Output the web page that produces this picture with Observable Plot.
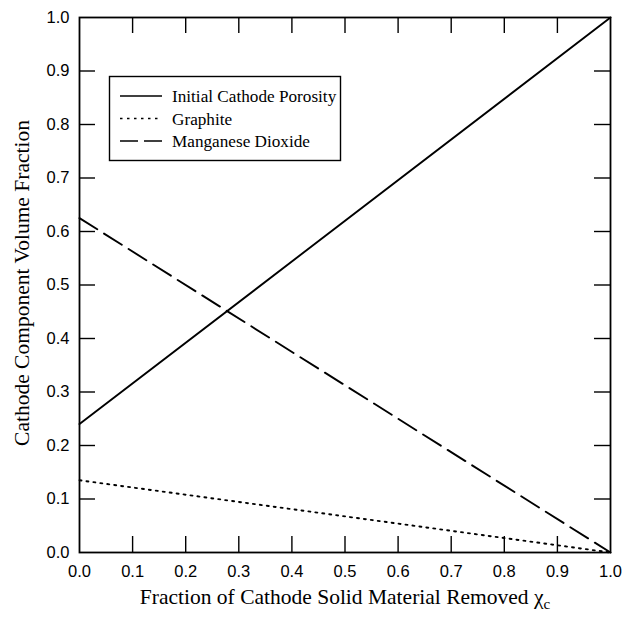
<!DOCTYPE html>
<html>
<head>
<meta charset="utf-8">
<script src="https://cdn.jsdelivr.net/npm/d3@7"></script>
<script src="https://cdn.jsdelivr.net/npm/@observablehq/plot@0.6"></script>
<style>
  html, body { margin: 0; padding: 0; background: #fff; }
  #chart { position: relative; width: 625px; height: 620px; }
</style>
</head>
<body>
<div id="chart"></div>
<script>
// Data (line endpoints)
const xRemoved = [0, 1];
const porosity = [0.24, 1.0];
const graphite = [0.135, 0.0];
const mno2 = [0.625, 0.0];
const seriesNames = ["Initial Cathode Porosity", "Graphite", "Manganese Dioxide"];
const tickValues = [0, 0.1, 0.2, 0.3, 0.4, 0.5, 0.6, 0.7, 0.8, 0.9, 1.0];
const innerTicks = tickValues.slice(1, -1);

const rows = [];
[porosity, graphite, mno2].forEach((vals, i) => {
  xRemoved.forEach((x, j) => rows.push({series: seriesNames[i], x, y: vals[j]}));
});
const dashes = {"Initial Cathode Porosity": null, "Graphite": "2,5", "Manganese Dioxide": "21,8"};

const W = 625, H = 620;
const mL = 79, mR = 15, mT = 17, mB = 68;
const tickLenPx = 16;
const tx = tickLenPx / (W - mL - mR);
const ty = tickLenPx / (H - mT - mB);

const lineMarks = seriesNames.map(s => Plot.line(rows.filter(r => r.series === s), {
  x: "x", y: "y", stroke: "black", strokeWidth: 1.9,
  strokeDasharray: dashes[s]
}));

const plot = Plot.plot({
  width: W, height: H,
  marginLeft: mL, marginRight: mR, marginTop: mT, marginBottom: mB,
  style: {fontFamily: "'Liberation Sans', Arial, sans-serif", color: "black", background: "white"},
  x: {domain: [0, 1], ticks: tickValues, tickFormat: d3.format(".1f"), label: null},
  y: {domain: [0, 1], ticks: tickValues, tickFormat: d3.format(".1f"), label: null},
  marks: [
    Plot.axisX({ticks: tickValues, tickFormat: d3.format(".1f"), tickSize: 0, tickPadding: 13, label: null}),
    Plot.axisY({ticks: tickValues, tickFormat: d3.format(".1f"), tickSize: 0, tickPadding: 10, label: null}),
    // inward ticks on all four sides
    Plot.ruleX(innerTicks, {x: d => d, y1: 0, y2: ty, stroke: "black", strokeWidth: 1.4}),
    Plot.ruleX(innerTicks, {x: d => d, y1: 1, y2: 1 - ty, stroke: "black", strokeWidth: 1.4}),
    Plot.ruleY(innerTicks, {y: d => d, x1: 0, x2: tx, stroke: "black", strokeWidth: 1.4}),
    Plot.ruleY(innerTicks, {y: d => d, x1: 1, x2: 1 - tx, stroke: "black", strokeWidth: 1.4}),
    ...lineMarks,
    Plot.frame({stroke: "black", strokeWidth: 1.8})
  ]
});

document.getElementById("chart").appendChild(plot);

const svg = d3.select(plot);
// enlarge tick labels
svg.selectAll("g[aria-label$='tick label']").attr("font-size", 16.5).style("font-size", "16.5px");

const serif = "'Liberation Serif', 'Times New Roman', serif";

// Axis titles
const xt = svg.append("text")
  .attr("x", 345).attr("y", 604)
  .attr("text-anchor", "middle")
  .style("font-family", serif).style("font-size", "21.5px").attr("fill", "black");
xt.append("tspan").text("Fraction of Cathode Solid Material Removed \u03C7");
xt.append("tspan").attr("dy", 5).style("font-size", "15px").text("c");

svg.append("text")
  .attr("transform", `translate(29, 283) rotate(-90)`)
  .attr("text-anchor", "middle")
  .style("font-family", serif).style("font-size", "21.5px").attr("fill", "black")
  .text("Cathode Component Volume Fraction");

// Legend
const lg = svg.append("g");
lg.append("rect").attr("x", 109.5).attr("y", 76.5).attr("width", 231).attr("height", 84)
  .attr("fill", "white").attr("stroke", "black").attr("stroke-width", 1.4);
seriesNames.forEach((s, i) => {
  const yy = 96 + i * 22.5;
  lg.append("line").attr("x1", 120).attr("x2", 162).attr("y1", yy).attr("y2", yy)
    .attr("stroke", "black").attr("stroke-width", 1.7)
    .attr("stroke-dasharray", s === "Graphite" ? "2.5,4.5" : s === "Manganese Dioxide" ? "18,6" : null);
  lg.append("text").attr("x", 172).attr("y", yy + 6)
    .attr("text-anchor", "start")
    .style("font-family", serif).style("font-size", "17.2px").attr("fill", "black").text(s);
});
</script>
</body>
</html>
